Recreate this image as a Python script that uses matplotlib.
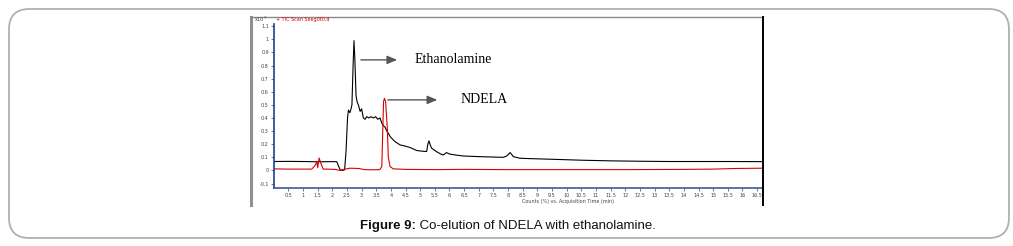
import matplotlib
matplotlib.use("Agg")
import matplotlib.pyplot as plt
from matplotlib.patches import FancyBboxPatch
from matplotlib.lines import Line2D

W, H = 1013, 246

# ---- data (counts x10^7 vs acquisition time, min) ----
black_t = [0.0, 0.5, 1.0, 1.5, 2.0, 2.15, 2.22, 2.27, 2.35, 2.42, 2.47, 2.52, 2.55, 2.6,
           2.64, 2.67, 2.71, 2.74, 2.77, 2.81, 2.85, 2.89, 2.95, 3.0, 3.06, 3.12, 3.17,
           3.25, 3.32, 3.4, 3.48, 3.55, 3.63, 3.69, 3.75, 3.8, 3.86, 3.92, 3.97, 4.05,
           4.14, 4.31, 4.5, 4.65, 4.88, 5.05, 5.22, 5.26, 5.30, 5.35, 5.39, 5.48, 5.56,
           5.7, 5.79, 5.9, 6.0, 6.2, 6.47, 6.8, 7.04, 7.5, 7.84, 7.95, 8.07, 8.13, 8.18,
           8.4, 8.75, 9.5, 10.5, 11.5, 12.5, 13.5, 14.5, 15.5, 16.7]
black_v = [0.068, 0.069, 0.068, 0.066, 0.067, 0.067, 0.03, 0.005, 0.0, 0.005, 0.15, 0.40,
           0.46, 0.44, 0.47, 0.50, 0.80, 0.99, 0.85, 0.57, 0.52, 0.50, 0.45, 0.47, 0.40,
           0.39, 0.41, 0.40, 0.41, 0.40, 0.41, 0.39, 0.40, 0.36, 0.34, 0.33, 0.30, 0.28,
           0.26, 0.24, 0.22, 0.195, 0.185, 0.175, 0.152, 0.147, 0.144, 0.20, 0.225, 0.19,
           0.17, 0.155, 0.143, 0.125, 0.118, 0.136, 0.125, 0.118, 0.11, 0.107, 0.105,
           0.102, 0.1, 0.11, 0.136, 0.12, 0.105, 0.093, 0.09, 0.085, 0.078, 0.073, 0.07,
           0.068, 0.068, 0.068, 0.067]

red_t = [0.0, 0.5, 1.0, 1.3, 1.38, 1.43, 1.47, 1.5, 1.55, 1.6, 1.69, 1.8, 2.1, 2.25, 2.4,
         2.6, 2.9, 3.1, 3.4, 3.62, 3.69, 3.72, 3.75, 3.78, 3.82, 3.88, 3.91, 3.97, 4.08,
         4.5, 5.5, 6.5, 8.0, 10.0, 12.0, 14.0, 15.0, 15.8, 16.7]
red_v = [0.012, 0.01, 0.01, 0.01, 0.03, 0.045, 0.07, 0.02, 0.095, 0.06, 0.01, 0.01, 0.008,
         0.0, 0.008, 0.017, 0.015, 0.006, 0.005, 0.006, 0.03, 0.29, 0.525, 0.55, 0.525,
         0.31, 0.105, 0.03, 0.012, 0.008, 0.006, 0.008, 0.006, 0.006, 0.006, 0.008, 0.01,
         0.015, 0.017]

x_ticks = [0.5 * i for i in range(1, 34)]
x_ticklabels = [("%g" % v) for v in x_ticks]
y_ticks = [round(-0.1 + 0.1 * i, 1) for i in range(13)]
y_ticklabels = [("%g" % v) for v in y_ticks]

label_peak1 = "Ethanolamine"
label_peak2 = "NDELA"
caption_bold = "Figure 9:"
caption_rest = " Co-elution of NDELA with ethanolamine."


def fx(px):
    return px / W


def fy(py):
    return 1 - py / H


fig = plt.figure(figsize=(W / 100, H / 100), dpi=100)

# outer rounded frame
fig.patches.append(FancyBboxPatch((fx(9), fy(238)), fx(1000), (229) / H,
                                  boxstyle="round,pad=0,rounding_size=0.02",
                                  transform=fig.transFigure, fill=False,
                                  edgecolor="#b0b0b0", linewidth=1.3,
                                  mutation_aspect=W / H))

# inner image border
fig.add_artist(Line2D([fx(251), fx(251)], [fy(17), fy(205)], color="#909090", lw=2.2,
                      transform=fig.transFigure))
fig.add_artist(Line2D([fx(251), fx(763)], [fy(17), fy(17)], color="#8a8a8a", lw=1.0,
                      transform=fig.transFigure))
fig.add_artist(Line2D([fx(763), fx(763)], [fy(17), fy(205)], color="black", lw=1.4,
                      transform=fig.transFigure))

ax = fig.add_axes([fx(273.7), fy(188), fx(763 - 273.7), (188 - 17) / H])
ax.plot(black_t, black_v, color="black", lw=0.8)
ax.plot(red_t, red_v, color="#d80000", lw=0.8)
ax.set_xlim(0, 16.7)
ax.set_ylim(-0.134, 1.17)
for s in ["top", "right"]:
    ax.spines[s].set_visible(False)
ax.spines["left"].set_color("#1f3f8f")
ax.spines["bottom"].set_color("#3a5a9a")
ax.spines["left"].set_linewidth(1.2)
ax.spines["bottom"].set_linewidth(1.2)
ax.spines["left"].set_bounds(-0.134, 1.12)
ax.set_xticks(x_ticks)
ax.set_xticklabels(x_ticklabels)
ax.set_yticks(y_ticks)
ax.set_yticklabels(y_ticklabels)
ax.tick_params(axis="both", labelsize=3.5, colors="#444444", length=2, width=0.5, pad=1.5)
ax.patch.set_alpha(0)

fig.text(fx(267), fy(19), "x10$^7$", fontsize=3.5, color="#444444", ha="right", va="center")
fig.text(fx(276), fy(19), "+ TIC Scan Seeg0t0.d", fontsize=3.5, color="#e00000",
         ha="left", va="center")
fig.text(fx(568), fy(201.5), "Counts (%) vs. Acquisition Time (min)", fontsize=3.5,
         color="#444444", ha="center", va="center")

# annotations
serif = ["Liberation Serif", "DejaVu Serif"]
ax.annotate("", xy=(4.31, 0.843), xytext=(2.88, 0.843),
            arrowprops=dict(arrowstyle="-|>,head_length=0.6,head_width=0.25",
                            color="#555555", lw=1.0))
ax.text(4.82, 0.843, label_peak1, family=serif, fontsize=10, ha="left", va="center",
        color="black")
ax.annotate("", xy=(5.68, 0.538), xytext=(3.8, 0.538),
            arrowprops=dict(arrowstyle="-|>,head_length=0.6,head_width=0.25",
                            color="#555555", lw=1.0))
ax.text(6.36, 0.538, label_peak2, family=serif, fontsize=10, ha="left", va="center",
        color="black")

# caption
sans = ["Liberation Sans", "DejaVu Sans"]
fig.text(fx(416), fy(226), caption_bold, family=sans, fontweight="bold", fontsize=9.5,
         ha="right", va="center", color="#111111")
fig.text(fx(416), fy(226), caption_rest, family=sans, fontsize=9.5,
         ha="left", va="center", color="#111111")

fig.savefig("out.png", dpi=100)
